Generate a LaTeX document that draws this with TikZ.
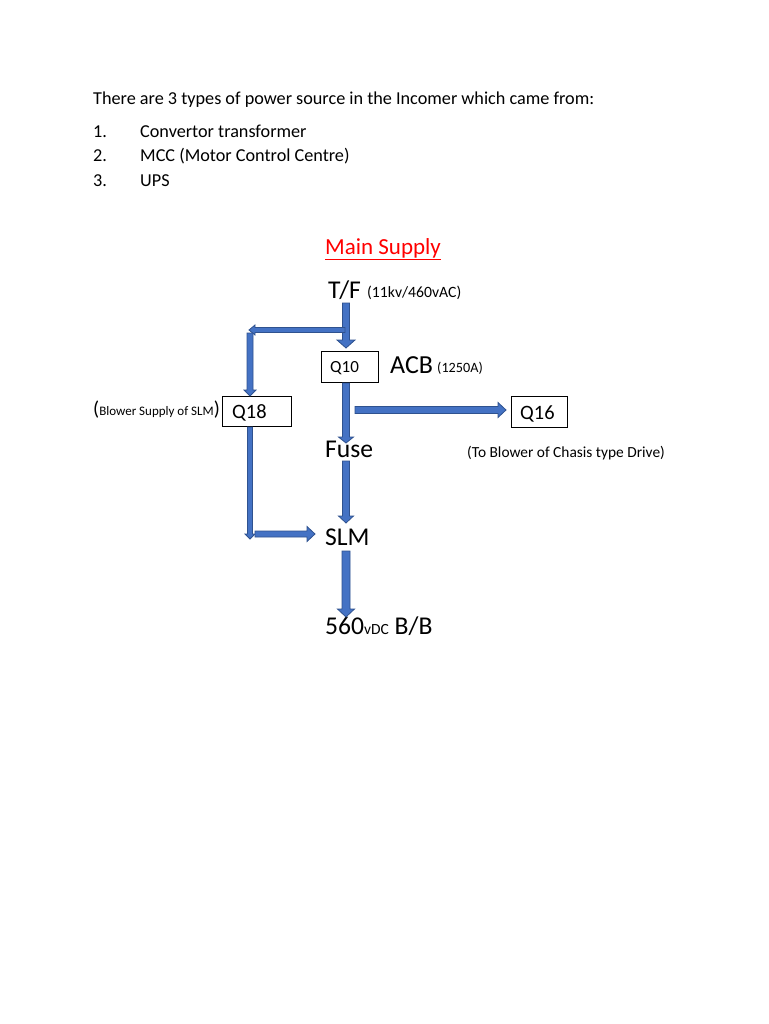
\documentclass[tikz,border=0pt]{standalone}
\usepackage{fontspec}
\setmainfont{Carlito}
\usetikzlibrary{calc}
\definecolor{afill}{HTML}{4472C4}
\definecolor{aline}{HTML}{2F528F}
\definecolor{mainred}{HTML}{FF0000}
\newcommand{\fs}[1]{\fontsize{#1}{#1}\selectfont}
% #1 start, #2 end, #3 shaft half width, #4 head half width, #5 head length
\newcommand{\blockarr}[5]{%
  \path[barrow] let \p1=(#1), \p2=(#2),
     \n1={veclen(\x2-\x1,\y2-\y1)}, \n2={atan2(\y2-\y1,\x2-\x1)} in
     ($(\p1)+(\n2+90:#3)$) -- ++(\n2:{\n1-#5}) -- ++(\n2+90:{#4-#3}) -- (\p2)
     -- ($(\p2)+(\n2+180:#5)+(\n2-90:#4)$) -- ++(\n2+90:{#4-#3})
     -- ($(\p1)+(\n2-90:#3)$) -- cycle;}
\begin{document}
\begin{tikzpicture}[x=1pt,y=-1pt,
  txt/.style={inner sep=0pt, anchor=base west},
  body/.style={font=\fs{18.2}},
  qbox/.style={draw=black, line width=0.8pt, inner sep=0pt, anchor=north west},
  barrow/.style={draw=aline, fill=afill, line width=0.8pt, line join=miter}]
\useasboundingbox (0,0) rectangle (768,1024);
\fill[white] (0,0) rectangle (768,1024);
% intro text
\node[txt, body] (intro) at (93,105) {There are 3 types of power source in the Incomer which came from:};
\node[txt, body] (n1) at (93,138) {1.};
\node[txt, body] (i1) at (140,138) {Convertor transformer};
\node[txt, body] (n2) at (93,162) {2.};
\node[txt, body] (i2) at (140,162) {MCC (Motor Control Centre)};
\node[txt, body] (n3) at (93,187) {3.};
\node[txt, body] (i3) at (140,187) {UPS};
% title
\node[txt, font=\fs{23}, text=mainred] (title) at (325,254) {\underline{Main Supply}};
% labels
\node[txt, font=\fs{25.6}] (tf) at (328,298) {T/F};
\node[txt, font=\fs{15.7}] (tfv) at (367,297) {(11kv/460vAC)};
\node[qbox, minimum width=57pt, minimum height=31pt] (q10) at (321,351) {};
\node[txt, font=\fs{17}] (q10t) at (330,372) {Q10};
\node[txt, font=\fs{26}] (acb) at (390,373) {ACB};
\node[txt, font=\fs{14.2}] (acbv) at (437,372) {(1250A)};
\node[qbox, minimum width=69pt, minimum height=30pt] (q18) at (222,396) {};
\node[txt, font=\fs{20.4}] (q18t) at (232,418) {Q18};
\node[txt] (blw) at (93,415) {{\fs{20}(}{\fs{13}Blower Supply of SLM}{\fs{20})}};
\node[qbox, minimum width=56pt, minimum height=31pt] (q16) at (511,396) {};
\node[txt, font=\fs{20.4}] (q16t) at (520,419) {Q16};
\node[txt, font=\fs{25.6}] (fuse) at (325,457) {Fuse};
\node[txt, font=\fs{15.4}] (tob) at (467,457) {(To Blower of Chasis type Drive)};
\node[txt, font=\fs{25.6}] (slm) at (325,545) {SLM};
\node[txt, font=\fs{25.6}] (bb) at (325,634) {560{\fs{15.5}vDC} B/B};
% arrow end points
\coordinate (tfS) at (346,303);
\coordinate (q10N) at (346,348);
\coordinate (brA) at (345,330);
\coordinate (brB) at (249,330);
\coordinate (brC) at (250,333);
\coordinate (q18N) at (250,396);
\coordinate (q10S) at (346,383);
\coordinate (fuseN) at (346,443);
\coordinate (q10E) at (355,410);
\coordinate (q16W) at (506,410);
\coordinate (fuseS) at (346,461);
\coordinate (slmN) at (346,523);
\coordinate (q18S) at (250,427);
\coordinate (q18B) at (250,539);
\coordinate (slmWa) at (255,534);
\coordinate (slmW) at (315,534);
\coordinate (slmS) at (346,551);
\coordinate (bbN) at (346,617);
% arrows
\blockarr{tfS}{q10N}{3.5pt}{9pt}{8pt}
\blockarr{brA}{brB}{2.5pt}{5pt}{6pt}
\blockarr{brC}{q18N}{3pt}{6pt}{6pt}
\blockarr{q10S}{fuseN}{3.5pt}{7.5pt}{6pt}
\blockarr{q10E}{q16W}{3.5pt}{7.5pt}{8pt}
\blockarr{fuseS}{slmN}{3.5pt}{7.5pt}{7pt}
\blockarr{q18S}{q18B}{2.5pt}{5pt}{5pt}
\blockarr{slmWa}{slmW}{3pt}{7.5pt}{8pt}
\blockarr{slmS}{bbN}{4pt}{8.5pt}{8pt}
\end{tikzpicture}
\end{document}
